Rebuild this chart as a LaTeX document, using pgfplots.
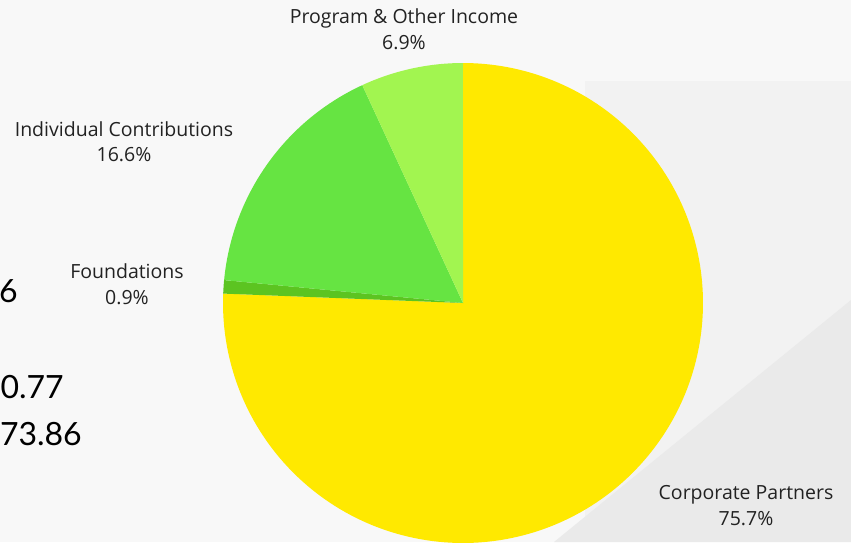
\documentclass[border=0pt]{standalone}
\usepackage{pgfplots}
\pgfplotsset{compat=1.18}
\usepackage{pgfplotstable}
\usepackage{fontspec}
\setmainfont{Open Sans}
\newfontfamily\bigfont{Lato}
\definecolor{bgA}{HTML}{F8F8F8}
\definecolor{bgB}{HTML}{F2F2F2}
\definecolor{bgC}{HTML}{EAEAEA}
\definecolor{cCorp}{HTML}{FFE900}
\definecolor{cFound}{HTML}{5CC421}
\definecolor{cIndiv}{HTML}{66E442}
\definecolor{cProg}{HTML}{A2F550}
\definecolor{txt}{HTML}{222222}
% shares in percent (clockwise from 12 o'clock)
\pgfplotstableread{
name  pct
Corp  75.7
Found 0.9
Indiv 16.6
Prog  6.9
}\piedata
\begin{document}
\begin{tikzpicture}
\path[use as bounding box] (0,0) rectangle (851pt,542pt);
\clip (0,0) rectangle (851pt,542pt);
\pgfplotstablegetelem{0}{pct}\of\piedata \let\pA\pgfplotsretval
\pgfplotstablegetelem{1}{pct}\of\piedata \let\pB\pgfplotsretval
\pgfplotstablegetelem{2}{pct}\of\piedata \let\pC\pgfplotsretval
\pgfplotstablegetelem{3}{pct}\of\piedata \let\pD\pgfplotsretval
\pgfmathsetmacro{\tot}{\pA+\pB+\pC+\pD}
\pgfmathsetmacro{\aA}{90}
\pgfmathsetmacro{\aB}{90-\pA/\tot*360}
\pgfmathsetmacro{\aC}{\aB-\pB/\tot*360}
\pgfmathsetmacro{\aD}{\aC-\pC/\tot*360}
\pgfmathsetmacro{\aE}{\aD-\pD/\tot*360}
\begin{axis}[
  scale only axis, width=851pt, height=542pt,
  xmin=0, xmax=851, ymin=0, ymax=542,
  hide axis, clip=true,
]
\fill[bgA] (axis cs:0,0) rectangle (axis cs:851,542);
\fill[bgB] (axis cs:585,0) rectangle (axis cs:851,461);
\fill[bgC] (axis cs:851,242) -- (axis cs:554,0) -- (axis cs:851,0) -- cycle;
\addplot[fill=cCorp, draw=none, domain=\aB:\aA, samples=200, variable=\t]
  ({463+240*cos(t)},{239+240*sin(t)}) -- (axis cs:463,239) -- cycle;
\addplot[fill=cFound, draw=none, domain=\aC:\aB, samples=10, variable=\t]
  ({463+240*cos(t)},{239+240*sin(t)}) -- (axis cs:463,239) -- cycle;
\addplot[fill=cIndiv, draw=none, domain=\aD:\aC, samples=60, variable=\t]
  ({463+240*cos(t)},{239+240*sin(t)}) -- (axis cs:463,239) -- cycle;
\addplot[fill=cProg, draw=none, domain=\aE:\aD, samples=30, variable=\t]
  ({463+240*cos(t)},{239+240*sin(t)}) -- (axis cs:463,239) -- cycle;
\begin{scope}[every node/.style={text=txt, inner sep=0pt, font=\fontsize{19.5}{22}\selectfont}]
\node[anchor=base] at (axis cs:404,518) {Program \& Other Income};
\node[anchor=base] at (axis cs:404,492) {6.9\%};
\node[anchor=base] at (axis cs:124,406) {Individual Contributions};
\node[anchor=base] at (axis cs:124,381) {16.6\%};
\node[anchor=base] at (axis cs:127,264) {Foundations};
\node[anchor=base] at (axis cs:127,238) {0.9\%};
\node[anchor=base] at (axis cs:746,43) {Corporate Partners};
\node[anchor=base] at (axis cs:746,17) {75.7\%};
\end{scope}
\begin{scope}[every node/.style={text=black, inner sep=0pt, font=\bigfont\fontsize{32}{36}\selectfont}]
\node[anchor=base east] at (axis cs:18,240) {6};
\node[anchor=base east] at (axis cs:64,144) {0.77};
\node[anchor=base east] at (axis cs:82,97) {73.86};
\end{scope}
\end{axis}
\end{tikzpicture}
\end{document}
